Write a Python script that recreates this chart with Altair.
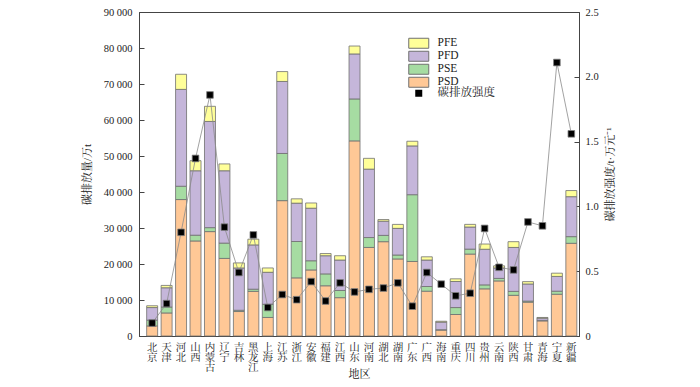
import altair as alt
import pandas as pd

regions = ["北京", "天津", "河北", "山西", "内蒙古", "辽宁", "吉林", "黑龙江", "上海", "江苏",
           "浙江", "安徽", "福建", "江西", "山东", "河南", "湖北", "湖南", "广东", "广西",
           "海南", "重庆", "四川", "贵州", "云南", "陕西", "甘肃", "青海", "宁夏", "新疆"]
psd = [2800, 6400, 37900, 26400, 29000, 21550, 6800, 12400, 5150, 37600,
       16150, 18350, 13950, 10650, 54200, 24600, 26200, 21400, 20700, 12450,
       1650, 5970, 22760, 13100, 15300, 11300, 9400, 4200, 11600, 25750]
pse = [1600, 1650, 3700, 1600, 1100, 4250, 350, 600, 3650, 13100,
       10100, 2550, 3300, 2000, 11650, 2750, 1750, 1100, 18550, 1300,
       100, 1930, 1370, 1100, 700, 1100, 300, 150, 850, 1850]
pfd = [3500, 5350, 26900, 17900, 29500, 20100, 11750, 12300, 8900, 20000,
       10650, 14600, 5050, 8450, 12500, 19000, 3950, 7400, 13550, 7350,
       2100, 7240, 6140, 9900, 2900, 12200, 4750, 600, 4100, 11100]
pfe = [500, 650, 4200, 2800, 4200, 1900, 1400, 1600, 1200, 2750,
       1200, 1450, 600, 1200, 2200, 3000, 450, 1100, 1300, 900,
       250, 740, 740, 1450, 600, 1600, 650, 200, 900, 1700]
intensity = [0.10, 0.25, 0.80, 1.37, 1.86, 0.84, 0.49, 0.78, 0.22, 0.32,
             0.28, 0.42, 0.27, 0.41, 0.34, 0.36, 0.37, 0.41, 0.23, 0.49,
             0.40, 0.31, 0.33, 0.83, 0.53, 0.51, 0.88, 0.85, 2.11, 1.56]

components = ["PFE", "PFD", "PSE", "PSD"]
colors = ["#FFFF99", "#C5B6DA", "#A6DCA2", "#FFC896"]
left_ticks = [0, 10000, 20000, 30000, 40000, 50000, 60000, 70000, 80000, 90000]
right_ticks = [0, 0.5, 1.0, 1.5, 2.0, 2.5]
series_name = "碳排放强度"

rows = []
for comp, vals, order in [("PSD", psd, 0), ("PSE", pse, 1), ("PFD", pfd, 2), ("PFE", pfe, 3)]:
    for r, v in zip(regions, vals):
        rows.append({"region": r, "component": comp, "value": v, "ord": order})
bars_df = pd.DataFrame(rows)
int_df = pd.DataFrame({"region": regions, "intensity": intensity, "series": [series_name] * len(regions)})

FONT = "Liberation Serif, Noto Serif CJK SC, Noto Sans CJK SC"
AX = "#444444"
H = 324

xenc = alt.X(
    "region:N", sort=regions,
    scale=alt.Scale(paddingInner=0.24, paddingOuter=0.34, align=0.78),
    axis=alt.Axis(title="地区", labelAngle=0, labelExpr="split(datum.label, '')",
                  labelLineHeight=10.3, ticks=False, labelPadding=6,
                  labelFontSize=10.5, labelBaseline="top", labelAlign="center",
                  titleFontSize=11, titleY=43, titleBaseline="bottom", domainColor=AX),
)

bars = alt.Chart(bars_df).mark_bar(stroke="#707070", strokeWidth=0.8).encode(
    x=xenc,
    y=alt.Y("value:Q", stack="zero",
            scale=alt.Scale(domain=[0, 90000], nice=False),
            axis=alt.Axis(orient="left", values=left_ticks, tickSize=0, labelPadding=7,
                          labelExpr="replace(format(datum.value, ','), ',', ' ')",
                          title="碳排放量/万t", titleX=-52, titleY=H / 2, titleAngle=270,
                          titleAlign="center", titleBaseline="middle",
                          labelFontSize=10.5, titleFontSize=11, grid=False, domainColor=AX)),
    color=alt.Color("component:N", scale=alt.Scale(domain=components, range=colors),
                    legend=alt.Legend(orient="none", legendX=274, legendY=25.5, title=None,
                                      symbolType="M-2,-1H2V1H-2Z", symbolSize=100,
                                      symbolStrokeColor="#707070", symbolStrokeWidth=1,
                                      labelFont=FONT, labelFontSize=11.5, labelOffset=13,
                                      rowPadding=-3.8, padding=0)),
    order=alt.Order("ord:Q", sort="ascending"),
)

lticks = alt.Chart(int_df).mark_point(opacity=0).encode(
    x=xenc,
    y=alt.Y("intensity:Q", scale=alt.Scale(domain=[0, 90000], nice=False),
            axis=alt.Axis(orient="left", offset=-5, tickSize=5, labels=False, domain=False,
                          title=None, values=left_ticks, tickColor=AX, grid=False)),
)

line = alt.Chart(int_df).mark_line(color="#8a8a8a", strokeWidth=0.8).encode(
    x=xenc,
    y=alt.Y("intensity:Q", scale=alt.Scale(domain=[0, 2.5], nice=False),
            axis=alt.Axis(orient="right", values=right_ticks, tickSize=0, labelPadding=6,
                          labelExpr="datum.value == 0 ? '0' : format(datum.value, '.1f')",
                          title="碳排放强度/t·万元⁻¹", titleAngle=270, titleX=31, titleY=H / 2,
                          titleAlign="center", titleBaseline="middle",
                          labelFontSize=10.5, titleFontSize=11, grid=False, domainColor=AX)),
)

points = alt.Chart(int_df).mark_point(shape="square", filled=True, fill="black",
                                      stroke="#808080", strokeWidth=0.8, size=44).encode(
    x=xenc,
    y=alt.Y("intensity:Q", scale=alt.Scale(domain=[0, 2.5], nice=False), axis=None),
    opacity=alt.Opacity("series:N", scale=alt.Scale(domain=[series_name], range=[1]),
                        legend=alt.Legend(orient="none", legendX=274, legendY=75.5, title=None,
                                          symbolType="M-2,0H2M-0.7,-0.7H0.7V0.7H-0.7Z",
                                          symbolSize=100, symbolFillColor="black",
                                          symbolStrokeColor="#808080", symbolStrokeWidth=1,
                                          symbolOpacity=1,
                                          labelFont=FONT, labelFontSize=11.5, labelOffset=13,
                                          padding=0)),
)

rticks = alt.Chart(int_df).mark_point(opacity=0).encode(
    x=xenc,
    y=alt.Y("intensity:Q", scale=alt.Scale(domain=[0, 2.5], nice=False),
            axis=alt.Axis(orient="right", offset=-5, tickSize=5, labels=False, domain=False,
                          title=None, values=right_ticks, tickColor=AX, grid=False)),
)

chart = alt.layer(bars, lticks, line, points, rticks).resolve_scale(
    y="independent"
).properties(
    width=440, height=H, autosize="none",
    padding={"left": 131, "top": 4, "right": 113, "bottom": 43},
).configure_view(
    stroke=AX, strokeWidth=1
).configure_axis(
    labelFont=FONT, titleFont=FONT, labelColor="#222222", titleColor="#222222",
    titleFontWeight="normal", domainColor=AX, tickColor=AX,
).configure_legend(
    labelColor="#222222"
)

chart.save("out.html", embed_options={"renderer": "svg", "actions": False})
